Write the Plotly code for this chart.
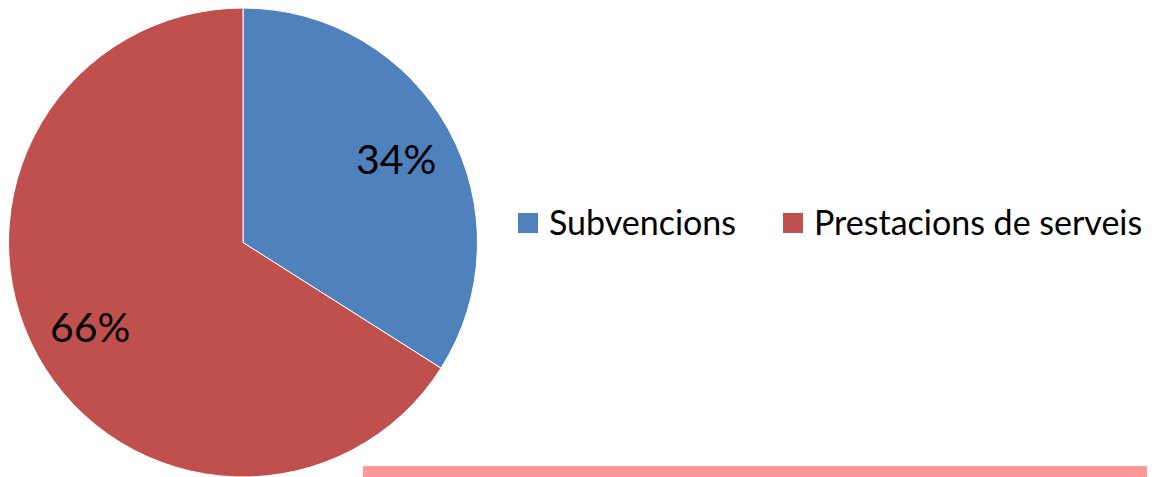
import math
import plotly.graph_objects as go

labels = ["Subvencions", "Prestacions de serveis"]
values = [34, 66]
colors = ["#4F81BD", "#C0504D"]

# page has an 8px body margin: figure fills the rest of the 1155x477 window
W, H = 1147, 469
cx, cy, r = 235.0, 234.5, 234.5  # pie centre/radius in px (figure coords, from top-left)

fig = go.Figure(go.Pie(
    labels=labels, values=values, sort=False, direction="clockwise", rotation=0,
    marker=dict(colors=colors, line=dict(color="white", width=1)),
    textinfo="none", hoverinfo="label+percent", showlegend=False,
    domain=dict(x=[(cx - r) / W, (cx + r) / W], y=[max(0, (H - cy - r) / H), min(1, (H - cy + r) / H)]),
))

# percentage labels placed at each slice's mid angle
total = sum(values)
cum = 0
ann = []
for v in values:
    mid = (cum + v / 2) / total * 2 * math.pi
    cum += v
    rr = 0.745 * r
    px = cx + rr * math.sin(mid)
    py = cy - rr * math.cos(mid)
    ann.append(dict(x=px / W, y=1 - py / H, xref="paper", yref="paper",
                    xanchor="center", yanchor="middle",
                    text=f"{round(v / total * 100)}%", showarrow=False,
                    font=dict(family="Lato", size=41, color="black")))

# legend (swatch + label) drawn as shapes and text
shapes = []
legend_x = [510, 775]     # swatch left edges (px)
legend_y = 215            # legend row centre (px)
sw = 20
for lab, col, lx in zip(labels, colors, legend_x):
    shapes.append(dict(type="rect", xref="paper", yref="paper",
                       x0=lx / W, x1=(lx + sw) / W,
                       y0=1 - (legend_y + sw / 2) / H, y1=1 - (legend_y - sw / 2) / H,
                       fillcolor=col, line=dict(width=0)))
    ann.append(dict(x=(lx + sw + 9) / W, y=1 - (legend_y - 1) / H, xref="paper", yref="paper",
                    xanchor="left", yanchor="middle", text=lab, showarrow=False,
                    font=dict(family="Lato", size=34, color="black")))

shapes.append(dict(type="rect", xref="paper", yref="paper", x0=355 / W, x1=1, y0=0, y1=11 / H,
                   fillcolor="#FF9999", line=dict(width=0)))

fig.update_layout(
    width=W, height=H, margin=dict(l=0, r=0, t=0, b=0, autoexpand=False),
    paper_bgcolor="white", plot_bgcolor="white",
    showlegend=False,
    annotations=ann,
    shapes=shapes,
)
fig.write_html("out.html")
